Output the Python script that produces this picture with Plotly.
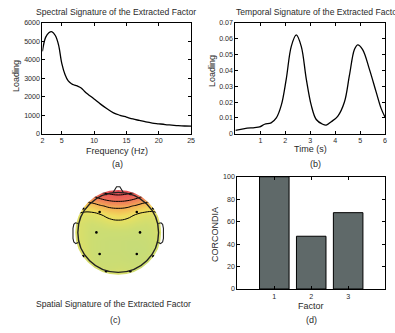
import plotly.graph_objects as go

# ---------------- data ----------------
freq_hz = [2, 2.5, 3, 3.5, 4, 4.5, 5, 5.5, 6, 6.5, 7, 7.5, 8, 8.5, 9, 10, 11, 12, 13, 14,
           15, 16, 17, 18, 19, 20, 21, 22, 23, 24, 25]
spectral_loading = [4450, 5200, 5450, 5500, 5300, 4800, 3800, 3200, 2850, 2700, 2620, 2560,
                    2470, 2300, 2150, 1880, 1600, 1350, 1130, 1000, 900, 800, 720, 640, 580,
                    540, 500, 470, 440, 420, 410]

time_s = [0.0, 0.37, 0.77, 0.97, 1.17, 1.43, 1.64, 1.84, 2.04, 2.24, 2.44, 2.64, 2.84, 3.04,
          3.24, 3.5, 3.64, 3.84, 4.1, 4.37, 4.57, 4.77, 4.9, 5.1, 5.37, 5.64, 5.84, 6.0]
temporal_loading = [0.0022, 0.0033, 0.0039, 0.0043, 0.006, 0.0069, 0.010, 0.018, 0.0346,
                    0.055, 0.0622, 0.055, 0.0346, 0.018, 0.009, 0.006, 0.0055, 0.0076, 0.011,
                    0.020, 0.0367, 0.053, 0.056, 0.053, 0.0407, 0.0264, 0.016, 0.0104]

factors = [1, 2, 3]
corcondia = [100, 47, 68]

# scalp map (normalised head coordinates, head radius = 1)
map_x = [-1.1, -0.88, -0.66, -0.44, -0.22, 0, 0.22, 0.44, 0.66, 0.88, 1.1]
map_y = [-1.1, -0.88, -0.66, -0.44, -0.22, 0, 0.22, 0.44, 0.66, 0.88, 1.1]
map_z = [
    [0.40, 0.40, 0.40, 0.39, 0.38, 0.38, 0.38, 0.39, 0.40, 0.40, 0.40],
    [0.40, 0.39, 0.37, 0.34, 0.33, 0.34, 0.33, 0.32, 0.35, 0.39, 0.40],
    [0.39, 0.38, 0.34, 0.31, 0.31, 0.31, 0.30, 0.29, 0.31, 0.36, 0.39],
    [0.39, 0.37, 0.33, 0.31, 0.30, 0.30, 0.29, 0.28, 0.29, 0.33, 0.39],
    [0.39, 0.36, 0.33, 0.31, 0.30, 0.30, 0.29, 0.29, 0.30, 0.33, 0.38],
    [0.39, 0.36, 0.33, 0.32, 0.32, 0.32, 0.32, 0.31, 0.32, 0.34, 0.38],
    [0.39, 0.36, 0.34, 0.35, 0.37, 0.38, 0.37, 0.35, 0.34, 0.35, 0.38],
    [0.42, 0.39, 0.38, 0.41, 0.45, 0.47, 0.45, 0.41, 0.38, 0.38, 0.41],
    [0.50, 0.48, 0.50, 0.55, 0.59, 0.60, 0.59, 0.55, 0.50, 0.48, 0.50],
    [0.62, 0.63, 0.68, 0.75, 0.80, 0.82, 0.80, 0.75, 0.68, 0.63, 0.62],
    [0.80, 0.85, 0.90, 0.95, 0.98, 1.00, 0.98, 0.95, 0.90, 0.85, 0.80],
]
elec_x = [-0.46, 0.46, -0.54, 0.54, -0.46, 0.46, -0.87, 0.87, -0.87, 0.87, -0.3, 0.3, -0.3, 0.3]
elec_y = [0.51, 0.51, 0.0, 0.0, -0.54, -0.54, 0.6, 0.6, -0.6, -0.6, -0.97, -0.97, 0.96, 0.96]

# ---------------- figure ----------------
W, H = 395, 333
FONT = "Liberation Sans, Arial, Helvetica, sans-serif"
TXT = "#2a2a2a"

def px_x(p):
    return p / W

def px_y(p):
    return 1 - p / H

fig = go.Figure()

fig.add_trace(go.Scatter(x=freq_hz, y=spectral_loading, mode="lines", line_shape="spline",
                         line=dict(color="black", width=1.3), xaxis="x", yaxis="y"))
fig.add_trace(go.Scatter(x=time_s, y=temporal_loading, mode="lines", line_shape="spline",
                         line=dict(color="black", width=1.3), xaxis="x2", yaxis="y2"))

colorscale = [
    [0.0, "#c2db7c"], [0.107, "#cddd72"], [0.2, "#e3e065"], [0.27, "#f0dc5e"],
    [0.4, "#f4b855"], [0.53, "#f19058"], [0.67, "#ec6c58"], [0.87, "#e65358"], [1.0, "#e04a55"],
]
fig.add_trace(go.Heatmap(x=map_x, y=map_y, z=map_z, zsmooth="best", zmin=0.25, zmax=1.0,
                         colorscale=colorscale, showscale=False, xaxis="x3", yaxis="y3",
                         hoverinfo="skip"))
fig.add_trace(go.Contour(x=map_x, y=map_y, z=map_z, showscale=False,
                         contours=dict(start=0.415, end=0.865, size=0.15, coloring="none"),
                         line=dict(color="black", width=1, smoothing=1.3),
                         xaxis="x3", yaxis="y3", hoverinfo="skip"))
fig.add_trace(go.Scatter(x=elec_x, y=elec_y, mode="markers",
                         marker=dict(color="black", size=2.6), xaxis="x3", yaxis="y3"))

fig.add_trace(go.Bar(x=factors, y=corcondia, width=0.8,
                     marker=dict(color="#5f6969", line=dict(color="black", width=1)),
                     xaxis="x4", yaxis="y4"))

axis_common = dict(showline=True, linecolor="black", linewidth=1, mirror="allticks",
                   ticks="inside", ticklen=3, tickcolor="black", showgrid=False,
                   zeroline=False, tickfont=dict(size=7.1, color=TXT, family=FONT))

# head decorations (mask ring, outline, nose, ears) on the scalp subplot
shapes = [
    dict(type="circle", xref="x3", yref="y3", x0=-1.41, x1=1.41, y0=-1.41, y1=1.41,
         line=dict(color="white", width=28), fillcolor="rgba(0,0,0,0)", layer="above"),
    dict(type="circle", xref="x3", yref="y3", x0=-1, x1=1, y0=-1, y1=1,
         line=dict(color="#222", width=1.4), layer="above"),
    dict(type="path", xref="x3", yref="y3",
         path="M -0.13 0.99 L -0.04 1.14 L 0.04 1.14 L 0.13 0.99",
         line=dict(color="#222", width=1.2), layer="above"),
    dict(type="path", xref="x3", yref="y3",
         path="M -0.99 0.22 L -1.06 0.24 L -1.1 0.2 L -1.12 0.1 L -1.12 -0.15 L -1.1 -0.24 L -1.05 -0.28 L -0.99 -0.25",
         line=dict(color="#222", width=1.1), layer="above"),
    dict(type="path", xref="x3", yref="y3",
         path="M 0.99 0.22 L 1.06 0.24 L 1.1 0.2 L 1.12 0.1 L 1.12 -0.15 L 1.1 -0.24 L 1.05 -0.28 L 0.99 -0.25",
         line=dict(color="#222", width=1.1), layer="above"),
]

def ann(text, x, y, size=9.0, angle=0, xanchor="center"):
    return dict(text=text, x=x, y=y, xref="paper", yref="paper", showarrow=False,
                xanchor=xanchor, yanchor="middle", textangle=angle,
                font=dict(size=size, color=TXT, family=FONT))

annotations = [
    ann("Spectral Signature of the Extracted Factor", px_x(116), px_y(8.5), size=8.6),
    ann("Temporal Signature of the Extracted Factor", px_x(236), px_y(8.5), size=8.6,
        xanchor="left"),
    ann("Frequency (Hz)", px_x(116.5), px_y(150.5)),
    ann("Loading", px_x(14), px_y(74), angle=-90),
    ann("(a)", px_x(117), px_y(164)),
    ann("Time (s)", px_x(313), px_y(149)),
    ann("Loading", px_x(214), px_y(69), angle=-90),
    ann("(b)", px_x(318), px_y(163.5)),
    ann("Spatial Signature of the Extracted Factor", px_x(113), px_y(307), size=8.6),
    ann("(c)", px_x(115), px_y(324)),
    ann("Factor", px_x(314), px_y(309)),
    ann("CORCONDIA", px_x(217), px_y(236), angle=-90),
    ann("(d)", px_x(314), px_y(323.5)),
]

fig.update_layout(
    width=W, height=H, margin=dict(l=0, r=0, t=0, b=0),
    paper_bgcolor="white", plot_bgcolor="white", showlegend=False,
    font=dict(family=FONT, color=TXT),
    xaxis=dict(domain=[px_x(41), px_x(192)], range=[2, 25], tickvals=[2, 5, 10, 15, 20, 25],
               anchor="y", **axis_common),
    yaxis=dict(domain=[px_y(133), px_y(19)], range=[0, 6000], dtick=1000, anchor="x",
               **axis_common),
    xaxis2=dict(domain=[px_x(237), px_x(389)], range=[0, 6], tickvals=[1, 2, 3, 4, 5, 6],
                anchor="y2", **axis_common),
    yaxis2=dict(domain=[px_y(133), px_y(19)], range=[0, 0.07], dtick=0.01, anchor="x2",
                tickformat=".2~f", **axis_common),
    xaxis3=dict(domain=[px_x(56.5), px_x(179.5)], range=[-1.5, 1.5], visible=False,
                anchor="y3"),
    yaxis3=dict(domain=[px_y(295.5), px_y(172.5)], range=[-1.5, 1.5], visible=False,
                anchor="x3"),
    xaxis4=dict(domain=[px_x(239), px_x(389)], range=[0, 4], tickvals=[1, 2, 3],
                anchor="y4", **axis_common),
    yaxis4=dict(domain=[px_y(292), px_y(177)], range=[0, 100], dtick=20, anchor="x4",
                **axis_common),
    shapes=shapes,
    annotations=annotations,
)

fig.write_html("out.html", config={"displayModeBar": False},
               post_script="document.body.style.margin='0';document.body.style.overflow='hidden';")
